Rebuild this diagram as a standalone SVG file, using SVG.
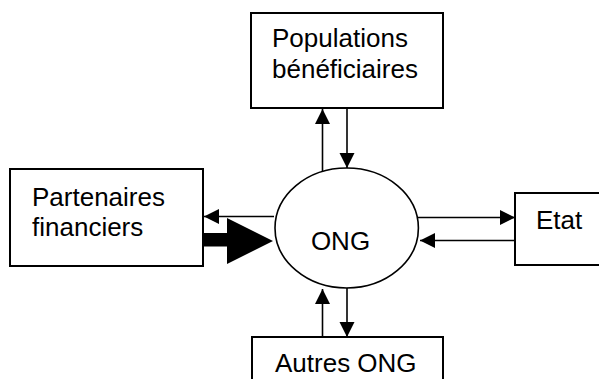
<svg xmlns="http://www.w3.org/2000/svg" width="599" height="379" viewBox="0 0 599 379">
<style>
.box{fill:#fff;stroke:#000;stroke-width:2}
.ell{fill:#fff;stroke:#000;stroke-width:1.6}
.lbl{font-family:"Liberation Sans",Arial,sans-serif;font-size:26px;fill:#000}
.con{stroke:#000;stroke-width:1.6;fill:none;marker-end:url(#ah)}
</style>
<defs>
<marker id="ah" markerUnits="userSpaceOnUse" markerWidth="16" markerHeight="16" refX="15" refY="7.5" orient="auto" viewBox="0 0 16 16">
<path d="M0,0 L15,7.5 L0,15 Z" fill="#000"/>
</marker>
</defs>
<rect width="599" height="379" fill="#fff"/>
<g id="connectors">
<line class="con" x1="322.5" y1="171" x2="322.5" y2="109"/>
<line class="con" x1="347" y1="108" x2="347" y2="168"/>
<line class="con" x1="274" y1="216.5" x2="204" y2="216.5"/>
<polygon points="203,233 227,233 227,218 273,241 227,264 227,246.5 203,246.5" fill="#000"/>
<line class="con" x1="418" y1="217.5" x2="515" y2="217.5"/>
<line class="con" x1="515" y1="240.5" x2="420" y2="240.5"/>
<line class="con" x1="322.5" y1="337" x2="322.5" y2="289"/>
<line class="con" x1="347" y1="288" x2="347" y2="337"/>
</g>
<g id="node-populations">
<rect class="box" x="251" y="13" width="192" height="95"/>
<text class="lbl" x="272" y="47">Populations</text>
<text class="lbl" x="272" y="78">bénéficiaires</text>
</g>
<g id="node-partenaires">
<rect class="box" x="10" y="169" width="193" height="97"/>
<text class="lbl" x="32" y="206">Partenaires</text>
<text class="lbl" x="32" y="236">financiers</text>
</g>
<g id="node-ong">
<ellipse class="ell" cx="346.7" cy="228" rx="71.7" ry="60"/>
<text class="lbl" x="340.5" y="250" text-anchor="middle">ONG</text>
</g>
<g id="node-etat">
<rect class="box" x="515" y="193" width="100" height="72"/>
<text class="lbl" x="536" y="229">Etat</text>
</g>
<g id="node-autres">
<rect class="box" x="252" y="337" width="191" height="60"/>
<text class="lbl" x="275" y="372">Autres ONG</text>
</g>
</svg>
